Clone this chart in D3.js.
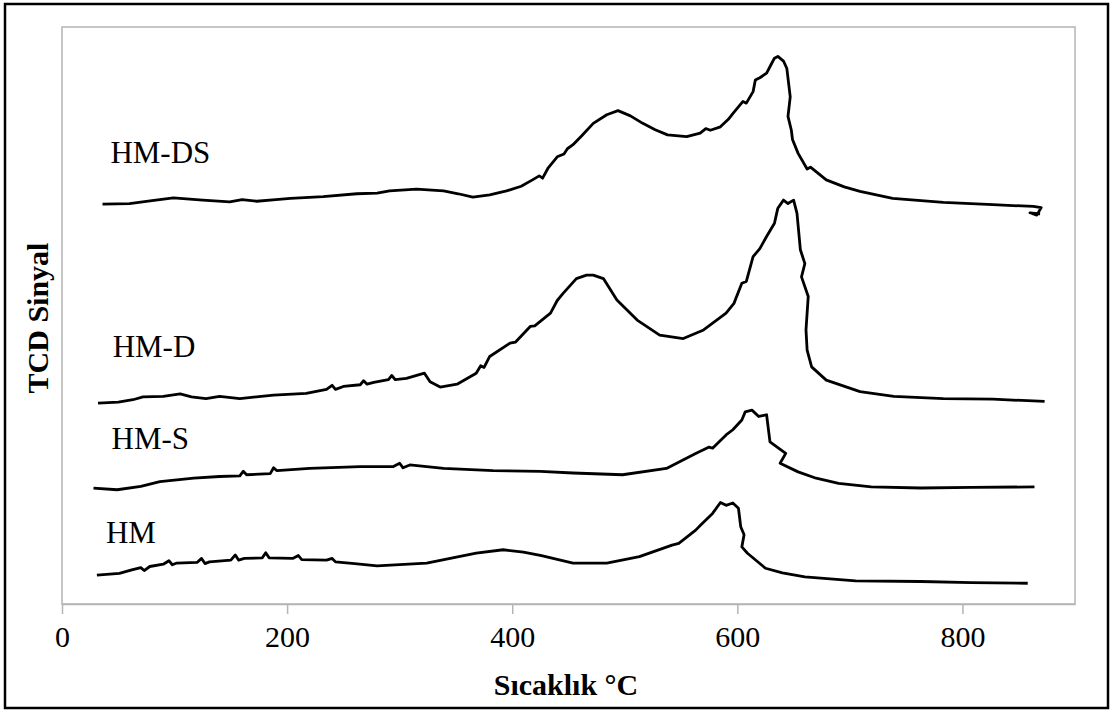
<!DOCTYPE html>
<html>
<head>
<meta charset="utf-8">
<script src="https://cdn.jsdelivr.net/npm/d3@7"></script>
<style>
  html, body { margin: 0; padding: 0; background: #fff; }
  text { font-family: "Liberation Serif", "Times New Roman", serif; fill: #000; }
</style>
</head>
<body>
<div id="chart"></div>
<script>
// temperature (°C), TCD signal (a.u.)
const hmDS = [[36,69.3],[60,69.4],[80,69.9],[99,70.4],[125,70.0],[149,69.7],[160,70.1],[173,69.8],[190,70.1],[203,70.3],[232,70.6],[262,71.1],[280,71.2],[291,71.6],[315,71.9],[339,71.6],[352,71.1],[365,70.5],[380,70.9],[395,71.6],[408,72.4],[418,73.5],[424,74.2],[427,73.8],[432,75.6],[440,77.5],[446,78.0],[449,78.9],[454,79.6],[462,81.2],[472,83.3],[484,84.8],[494,85.5],[505,84.6],[516,83.3],[527,82.2],[538,81.3],[555,81.0],[567,81.6],[572,82.4],[576,82.1],[585,82.7],[592,84.0],[596,85.0],[605,87.1],[608,86.8],[614,88.8],[616,90.8],[620,91.2],[626,92.0],[630,93.5],[633,94.6],[636,94.9],[641,94.1],[644,92.8],[647,87.9],[645,84.5],[648,82.1],[649,80.5],[654,78.1],[662,75.4],[665,75.7],[679,73.5],[695,72.3],[709,71.5],[738,70.3],[783,69.6],[827,69.2],[863,68.9],[870,68.7],[866,67.4],[860,67.8],[869,67.6]];
const hmD = [[32,34.8],[50,35.0],[63,35.4],[72,35.9],[90,36.0],[105,36.4],[115,35.9],[128,35.6],[140,36.0],[158,35.6],[188,36.2],[217,36.5],[235,37.2],[240,37.9],[243,37.2],[250,37.7],[265,38.0],[268,38.7],[271,38.1],[277,38.4],[290,38.9],[293,39.6],[296,38.9],[306,39.1],[322,40.0],[327,38.5],[336,37.6],[351,38.1],[368,40.0],[372,41.3],[375,41.0],[380,42.9],[398,45.2],[403,45.4],[416,48.1],[420,48.2],[434,50.4],[440,52.6],[445,53.8],[457,56.4],[466,57.0],[472,57.0],[481,56.4],[493,52.7],[511,49.2],[531,46.6],[552,46.0],[570,47.5],[590,50.4],[597,52.1],[604,55.6],[608,55.9],[614,60.2],[620,61.6],[626,63.7],[633,66.0],[636,68.6],[641,70.0],[645,69.4],[650,70.0],[653,67.7],[656,61.4],[660,59.0],[657,56.7],[663,53.3],[661,47.5],[662,44.0],[666,41.1],[679,38.8],[709,36.8],[739,36.0],[783,35.6],[827,35.5],[873,35.1]];
const hmS = [[28,20.1],[49,19.8],[70,20.4],[87,21.2],[117,21.8],[140,22.1],[158,22.2],[161,23.0],[164,22.4],[185,22.6],[188,23.6],[191,23.1],[220,23.5],[265,23.8],[294,23.8],[300,24.4],[303,23.6],[309,24.1],[339,23.5],[383,23.1],[425,23.0],[454,22.7],[498,22.4],[537,23.5],[563,26.1],[575,27.2],[578,27.0],[590,29.3],[596,30.2],[604,31.9],[607,33.3],[613,33.6],[619,32.5],[626,32.8],[629,28.1],[636,27.1],[643,26.1],[638,24.4],[654,22.9],[670,21.8],[690,20.9],[719,20.3],[763,20.1],[808,20.2],[864,20.3]];
const hm = [[31,5.0],[51,5.3],[62,5.9],[70,6.3],[73,5.8],[78,6.5],[90,6.9],[95,7.5],[98,6.8],[102,7.1],[120,7.2],[124,7.9],[127,7.0],[131,7.3],[150,7.6],[154,8.5],[157,7.6],[162,7.9],[178,8.0],[181,8.9],[184,8.0],[205,7.9],[210,8.4],[213,7.7],[235,7.6],[240,7.9],[243,7.3],[260,7.0],[280,6.6],[324,7.1],[368,8.8],[392,9.4],[410,9.0],[426,8.4],[454,7.1],[484,7.1],[513,8.2],[542,10.2],[548,10.5],[563,12.8],[567,13.6],[578,15.7],[585,17.6],[590,17.1],[596,17.5],[601,16.6],[603,13.4],[606,12.0],[604,9.9],[609,8.8],[625,6.2],[640,5.4],[660,4.7],[705,4.0],[763,3.9],[808,3.7],[858,3.6]];

const seriesNames = ["HM-DS", "HM-D", "HM-S", "HM"];
// label anchors in data units (temperature, signal)
const labelAnchors = [[43,76.4],[45,42.8],[44,26.9],[39,10.6]];
const xTicks = [0, 200, 400, 600, 800];

const width = 1113, height = 713;
const plot = {left: 62, right: 1075, top: 27, bottom: 604};

const svg = d3.select("#chart").append("svg")
  .attr("width", width)
  .attr("height", height);

// outer frame
svg.append("rect")
  .attr("x", 5).attr("y", 4)
  .attr("width", 1103).attr("height", 704)
  .attr("fill", "#fff")
  .attr("stroke", "#000")
  .attr("stroke-width", 2.5);

const x = d3.scaleLinear().domain([0, 900]).range([plot.left, plot.right]);
const y = d3.scaleLinear().domain([0, 100]).range([plot.bottom, plot.top]);

// plot area border
svg.append("rect")
  .attr("x", plot.left).attr("y", plot.top)
  .attr("width", plot.right - plot.left)
  .attr("height", plot.bottom - plot.top)
  .attr("fill", "none")
  .attr("stroke", "#b4b4b4")
  .attr("stroke-width", 1.5);

const xAxis = svg.append("g")
  .attr("transform", `translate(0,${plot.bottom})`)
  .call(d3.axisBottom(x).tickValues(xTicks).tickSize(10).tickSizeOuter(0).tickPadding(12));
xAxis.select(".domain").attr("stroke", "#b4b4b4").attr("stroke-width", 1.5);
xAxis.selectAll(".tick line").attr("stroke", "#b4b4b4").attr("stroke-width", 1.5);
xAxis.selectAll(".tick text")
  .attr("font-family", "'Liberation Serif', serif")
  .attr("font-size", 30)
  .attr("fill", "#000");

const line = d3.line()
  .x(d => x(d[0]))
  .y(d => y(d[1]));

const allSeries = [hmDS, hmD, hmS, hm];

svg.selectAll(".curve")
  .data(allSeries)
  .enter()
  .append("path")
  .attr("class", "curve")
  .attr("d", line)
  .attr("fill", "none")
  .attr("stroke", "#000")
  .attr("stroke-width", 2.8)
  .attr("stroke-linejoin", "round");

svg.selectAll(".lbl")
  .data(seriesNames)
  .enter()
  .append("text")
  .attr("class", "lbl")
  .attr("x", (d, i) => x(labelAnchors[i][0]))
  .attr("y", (d, i) => y(labelAnchors[i][1]))
  .attr("font-size", 31)
  .text(d => d);

svg.append("text")
  .attr("x", 566)
  .attr("y", 695)
  .attr("text-anchor", "middle")
  .attr("font-size", 30)
  .attr("font-weight", "bold")
  .text("Sıcaklık °C");

svg.append("text")
  .attr("transform", "translate(48,318) rotate(-90)")
  .attr("text-anchor", "middle")
  .attr("font-size", 30)
  .attr("font-weight", "bold")
  .text("TCD Sinyal");
</script>
</body>
</html>
